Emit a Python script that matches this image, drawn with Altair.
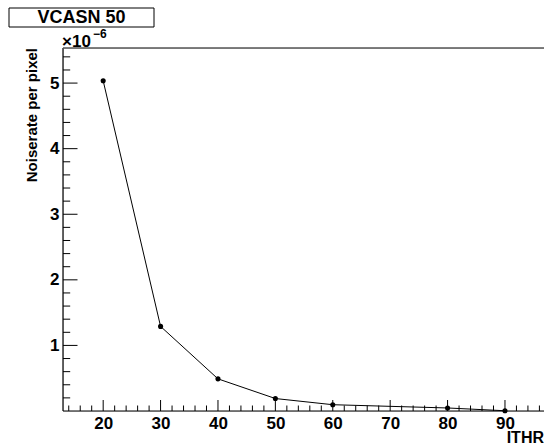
import altair as alt
import pandas as pd

# Measured noise rate per pixel (units of 1e-6) versus ITHR, at VCASN 50
ithr = [20, 30, 40, 50, 60, 80, 90]
noise = [5.035, 1.29, 0.49, 0.19, 0.096, 0.046, 0.004]

x_major = [20, 30, 40, 50, 60, 70, 80, 90]
x_minor = [v for v in range(14, 97, 2) if v % 10 != 0]
y_major = [1, 2, 3, 4, 5]
y_minor = [round(i * 0.2, 1) for i in range(1, 28) if i % 5 != 0]

W, H = 481, 363
X_DOM = [13, 96.8]
Y_DOM = [0, 5.535]
FONT = "Liberation Sans"

df = pd.DataFrame({"ithr": ithr, "noise": noise})
xs = alt.Scale(domain=X_DOM, nice=False, zero=False)
ys = alt.Scale(domain=Y_DOM, nice=False, zero=False)

x_axis = alt.Axis(values=x_major, ticks=False, domain=False, grid=False,
                  labelFont=FONT, labelFontWeight="bold", labelFontSize=17,
                  labelColor="black", labelPadding=4, title=None)
y_axis = alt.Axis(values=y_major, ticks=False, domain=False, grid=False,
                  labelFont=FONT, labelFontWeight="bold", labelFontSize=17,
                  labelColor="black", labelPadding=4, format="d", title=None)

line = alt.Chart(df).mark_line(color="black", strokeWidth=1).encode(
    x=alt.X("ithr:Q", scale=xs, axis=x_axis),
    y=alt.Y("noise:Q", scale=ys, axis=y_axis),
)
points = alt.Chart(df).mark_point(filled=True, color="black", size=26, opacity=1).encode(
    x=alt.X("ithr:Q", scale=xs),
    y=alt.Y("noise:Q", scale=ys),
)

# Inward tick marks on the bottom and left frame edges
def xticks(vals, length):
    return alt.Chart(pd.DataFrame({"v": vals})).mark_rule(color="black", strokeWidth=1).encode(
        x=alt.X("v:Q", scale=xs), y=alt.value(H), y2=alt.value(H - length))

def yticks(vals, length):
    return alt.Chart(pd.DataFrame({"v": vals})).mark_rule(color="black", strokeWidth=1).encode(
        y=alt.Y("v:Q", scale=ys), x=alt.value(0), x2=alt.value(length))

one = pd.DataFrame({"k": [0]})
frame_left = alt.Chart(one).mark_rule(color="black", strokeWidth=1.2).encode(
    x=alt.value(0), y=alt.value(0), y2=alt.value(H))
frame_bottom = alt.Chart(one).mark_rule(color="black", strokeWidth=1.2).encode(
    x=alt.value(0), x2=alt.value(W + 1), y=alt.value(H))
frame_top = alt.Chart(one).mark_rule(color="#555555", strokeWidth=1.5).encode(
    x=alt.value(0), x2=alt.value(W + 1), y=alt.value(0))

# Title box
title_box = alt.Chart(one).mark_rect(fill="white", stroke="black", strokeWidth=1).encode(
    x=alt.value(-54), x2=alt.value(91), y=alt.value(-40), y2=alt.value(-21))
title_txt = alt.Chart(one).mark_text(text="VCASN 50", font=FONT, fontWeight="bold",
                                     fontSize=18, align="center", baseline="middle",
                                     color="black").encode(
    x=alt.value(18.5), y=alt.value(-30))

# Exponent label above the y axis
exp_base = alt.Chart(one).mark_text(text="×10", font=FONT, fontWeight="bold", fontSize=17,
                                    align="left", baseline="alphabetic", color="black").encode(
    x=alt.value(-1), y=alt.value(-1))
exp_pow = alt.Chart(one).mark_text(text="−6", font=FONT, fontWeight="bold", fontSize=12,
                                   align="left", baseline="alphabetic", color="black").encode(
    x=alt.value(30), y=alt.value(-10))

y_title = alt.Chart(one).mark_text(text="Noiserate per pixel", font=FONT, fontWeight="bold",
                                   fontSize=15, angle=270, align="right", baseline="middle",
                                   color="black").encode(
    x=alt.value(-31), y=alt.value(0))
x_title = alt.Chart(one).mark_text(text="ITHR", font=FONT, fontWeight="bold", fontSize=16,
                                   align="right", baseline="alphabetic", color="black").encode(
    x=alt.value(W), y=alt.value(H + 32))

chart = alt.layer(
    xticks(x_minor, 5.5), xticks(x_major, 11), yticks(y_minor, 7.2), yticks(y_major, 14.5),
    frame_left, frame_bottom, frame_top,
    line, points,
    title_box, title_txt, exp_base, exp_pow, y_title, x_title,
).properties(
    width=W, height=H,
    autosize=alt.AutoSizeParams(type="none"),
    padding={"left": 63, "top": 48, "right": 0, "bottom": 36},
).configure_view(stroke=None).configure(background="white")

chart.save("out.html", embed_options={"renderer": "svg", "actions": False})
